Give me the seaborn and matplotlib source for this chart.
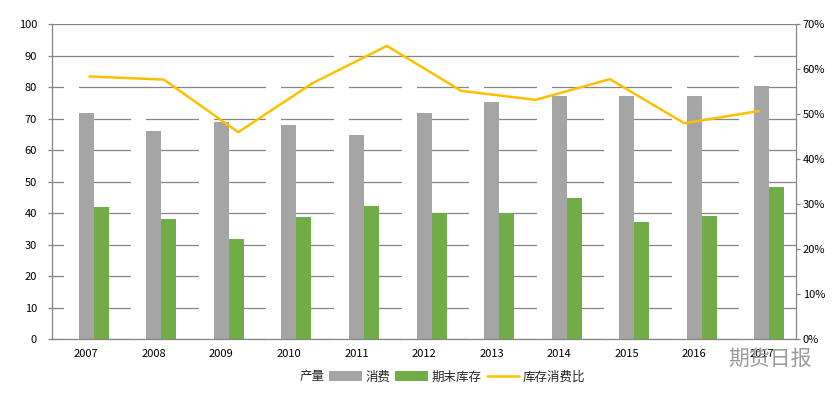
import numpy as np
import pandas as pd
import seaborn as sns
import matplotlib.pyplot as plt
from matplotlib.patches import Patch
from matplotlib.lines import Line2D
from matplotlib.ticker import PercentFormatter, MultipleLocator

# data
years = ['2007', '2008', '2009', '2010', '2011', '2012', '2013', '2014', '2015', '2016', '2017']
# production bars are drawn in white in the original, only visible where they cut the gridlines
production = [85, 75, 73, 84, 93, 85, 84, 85, 75, 84, 93]
consumption = [71.8, 66.1, 69.0, 68.0, 64.8, 71.8, 75.3, 77.2, 77.2, 77.2, 80.4]
inventory = [41.9, 38.1, 31.8, 38.8, 42.3, 39.9, 39.9, 44.8, 37.2, 39.1, 48.3]
# the ratio line only has 10 points, on its own (hidden) category axis
ratio_years = years[:10]
ratio = [58.4, 57.7, 46.0, 56.9, 65.2, 55.2, 53.2, 57.8, 48.0, 50.7]

series = ['产量', '消费', '期末库存']
colors = {'产量': '#FFFFFF', '消费': '#A5A5A5', '期末库存': '#70AD47'}
line_color = '#FFC000'
axis_color = '#868686'

sns.set_style('white')
plt.rcParams['font.family'] = ['Noto Sans CJK SC', 'DejaVu Sans']

df = pd.DataFrame({'year': years, '产量': production, '消费': consumption, '期末库存': inventory})
df = df.melt(id_vars='year', var_name='series', value_name='value')

fig = plt.figure(figsize=(8.4, 3.96), dpi=100)
ax = fig.add_axes([0.0623, 0.144, 0.8850, 0.7946])

sns.barplot(data=df, x='year', y='value', hue='series', hue_order=series,
            palette=colors, width=0.666, saturation=1, legend=False, ax=ax)
for p in ax.patches:
    p.set_edgecolor('none')

ax.set_axisbelow(True)
ax.set_ylim(0, 100)
ax.set_xlim(-0.5, len(years) - 0.5)
ax.yaxis.set_major_locator(MultipleLocator(10))
ax.yaxis.grid(True, color=axis_color, linewidth=0.9)
ax.xaxis.grid(False)
ax.set_xlabel('')
ax.set_ylabel('')
ax.set_xticks(np.arange(-0.5, len(years), 1), minor=True)
ax.tick_params(axis='x', which='major', length=0, pad=7, labelsize=8, colors='black')
ax.tick_params(axis='x', which='minor', length=3, width=0.9, color=axis_color)
ax.tick_params(axis='y', which='major', left=True, length=3, width=0.9, color=axis_color,
               pad=8, labelsize=8, labelcolor='black')
for side in ['left', 'bottom']:
    ax.spines[side].set_color(axis_color)
    ax.spines[side].set_linewidth(0.9)
ax.spines['top'].set_visible(False)
ax.spines['right'].set_visible(False)

# right percent axis
ax2 = ax.twinx()
ax2.set_ylim(0, 70)
ax2.yaxis.set_major_locator(MultipleLocator(10))
ax2.yaxis.set_major_formatter(PercentFormatter(xmax=100, decimals=0))
ax2.tick_params(axis='y', right=True, length=3, width=0.9, color=axis_color,
                pad=2, labelsize=8, labelcolor='black')
for side in ['left', 'top', 'bottom']:
    ax2.spines[side].set_visible(False)
ax2.spines['right'].set_color(axis_color)
ax2.spines['right'].set_linewidth(0.9)

# secondary category axis for the ratio line
ax3 = ax2.twiny()
sns.lineplot(x=ratio_years, y=ratio, ax=ax3, color=line_color, linewidth=1.8, sort=False)
ax3.set_xlim(-0.5, len(ratio_years) - 0.5)
ax3.set_ylim(0, 70)
ax3.set_xticks([])
for s in ax3.spines.values():
    s.set_visible(False)

handles = [Patch(facecolor=colors[s], edgecolor='none') for s in series]
handles.append(Line2D([0], [0], color=line_color, linewidth=1.8))
labels = series + ['库存消费比']
fig.legend(handles, labels, loc='center', bbox_to_anchor=(0.505, 0.048), ncol=4,
           frameon=False, fontsize=9, handlelength=2.6, handleheight=0.8,
           columnspacing=0.4, handletextpad=0.3)

# watermark
fig.text(0.917, 0.094, '期货日报', fontsize=15, color='#9a9a9a', ha='center', va='center')

fig.savefig('out.png', dpi=100)
